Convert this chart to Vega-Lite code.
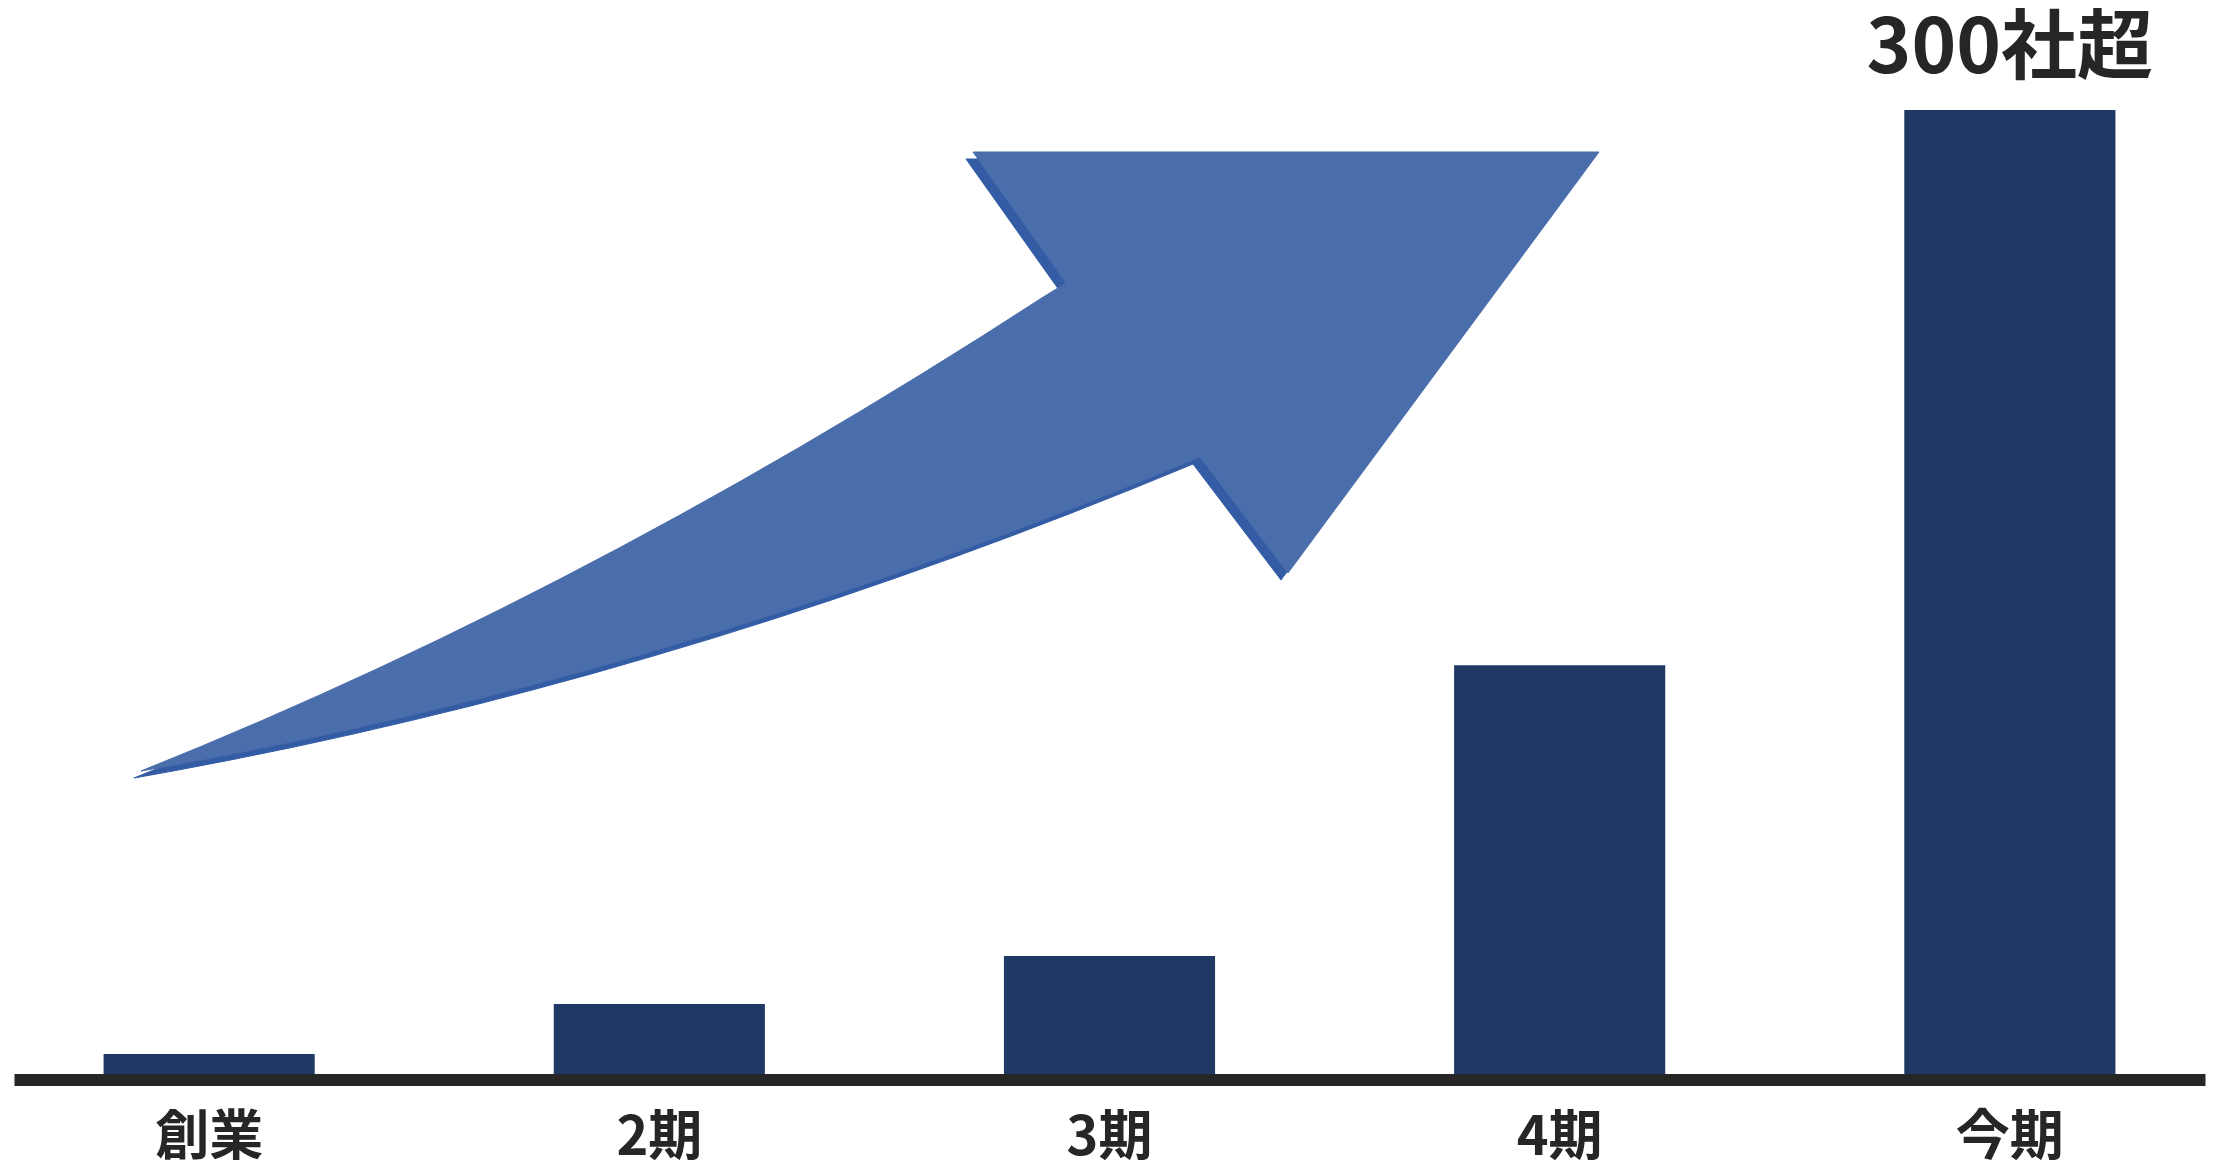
{
  "$schema": "https://vega.github.io/schema/vega-lite/v6.json",
  "width": 2191,
  "height": 969.5,
  "autosize": {"type": "none"},
  "padding": {"left": 14, "top": 110, "right": 14, "bottom": 84.5},
  "background": "white",
  "config": {"view": {"stroke": null}},
  "datasets": {
    "bars": [
      {"period": "創業", "value": 7.9, "note": ""},
      {"period": "2期", "value": 23.4, "note": ""},
      {"period": "3期", "value": 38.2, "note": ""},
      {"period": "4期", "value": 128.2, "note": ""},
      {"period": "今期", "value": 300, "note": "300社超"}
    ],
    "arrow": [
      {"part": "main", "i": 1, "u": 5.796, "v": 95.46},
      {"part": "main", "i": 2, "u": 8.489, "v": 102.92},
      {"part": "main", "i": 3, "u": 11.228, "v": 110.81},
      {"part": "main", "i": 4, "u": 13.966, "v": 119.01},
      {"part": "main", "i": 5, "u": 16.705, "v": 127.49},
      {"part": "main", "i": 6, "u": 19.443, "v": 136.31},
      {"part": "main", "i": 7, "u": 22.182, "v": 145.44},
      {"part": "main", "i": 8, "u": 24.920, "v": 154.87},
      {"part": "main", "i": 9, "u": 27.659, "v": 164.62},
      {"part": "main", "i": 10, "u": 30.397, "v": 174.68},
      {"part": "main", "i": 11, "u": 33.136, "v": 185.04},
      {"part": "main", "i": 12, "u": 35.874, "v": 195.72},
      {"part": "main", "i": 13, "u": 38.612, "v": 206.70},
      {"part": "main", "i": 14, "u": 41.351, "v": 218.00},
      {"part": "main", "i": 15, "u": 44.089, "v": 229.57},
      {"part": "main", "i": 16, "u": 46.828, "v": 241.49},
      {"part": "main", "i": 17, "u": 48.015, "v": 246.47},
      {"part": "main", "i": 18, "u": 43.770, "v": 287.00},
      {"part": "main", "i": 19, "u": 72.342, "v": 287.00},
      {"part": "main", "i": 20, "u": 58.147, "v": 156.73},
      {"part": "main", "i": 21, "u": 54.131, "v": 192.62},
      {"part": "main", "i": 22, "u": 51.392, "v": 185.01},
      {"part": "main", "i": 23, "u": 48.654, "v": 177.65},
      {"part": "main", "i": 24, "u": 45.915, "v": 170.53},
      {"part": "main", "i": 25, "u": 43.177, "v": 163.66},
      {"part": "main", "i": 26, "u": 40.438, "v": 157.07},
      {"part": "main", "i": 27, "u": 37.700, "v": 150.70},
      {"part": "main", "i": 28, "u": 34.961, "v": 144.60},
      {"part": "main", "i": 29, "u": 32.223, "v": 138.75},
      {"part": "main", "i": 30, "u": 29.484, "v": 133.18},
      {"part": "main", "i": 31, "u": 26.746, "v": 127.83},
      {"part": "main", "i": 32, "u": 24.007, "v": 122.75},
      {"part": "main", "i": 33, "u": 21.269, "v": 117.93},
      {"part": "main", "i": 34, "u": 18.530, "v": 113.38},
      {"part": "main", "i": 35, "u": 15.792, "v": 109.05},
      {"part": "main", "i": 36, "u": 13.053, "v": 104.99},
      {"part": "main", "i": 37, "u": 10.315, "v": 101.19},
      {"part": "main", "i": 38, "u": 7.576, "v": 97.63},
      {"part": "main", "i": 39, "u": 5.796, "v": 95.46},
      {"part": "shadow", "i": 1, "u": 5.477, "v": 93.29},
      {"part": "shadow", "i": 2, "u": 8.170, "v": 100.75},
      {"part": "shadow", "i": 3, "u": 10.909, "v": 108.64},
      {"part": "shadow", "i": 4, "u": 13.647, "v": 116.84},
      {"part": "shadow", "i": 5, "u": 16.386, "v": 125.32},
      {"part": "shadow", "i": 6, "u": 19.124, "v": 134.14},
      {"part": "shadow", "i": 7, "u": 21.863, "v": 143.27},
      {"part": "shadow", "i": 8, "u": 24.601, "v": 152.70},
      {"part": "shadow", "i": 9, "u": 27.340, "v": 162.45},
      {"part": "shadow", "i": 10, "u": 30.078, "v": 172.51},
      {"part": "shadow", "i": 11, "u": 32.817, "v": 182.87},
      {"part": "shadow", "i": 12, "u": 35.555, "v": 193.55},
      {"part": "shadow", "i": 13, "u": 38.293, "v": 204.53},
      {"part": "shadow", "i": 14, "u": 41.032, "v": 215.83},
      {"part": "shadow", "i": 15, "u": 43.770, "v": 227.40},
      {"part": "shadow", "i": 16, "u": 46.509, "v": 239.32},
      {"part": "shadow", "i": 17, "u": 47.696, "v": 244.30},
      {"part": "shadow", "i": 18, "u": 43.451, "v": 284.83},
      {"part": "shadow", "i": 19, "u": 72.023, "v": 284.83},
      {"part": "shadow", "i": 20, "u": 57.828, "v": 154.56},
      {"part": "shadow", "i": 21, "u": 53.812, "v": 190.45},
      {"part": "shadow", "i": 22, "u": 51.073, "v": 182.84},
      {"part": "shadow", "i": 23, "u": 48.335, "v": 175.48},
      {"part": "shadow", "i": 24, "u": 45.596, "v": 168.36},
      {"part": "shadow", "i": 25, "u": 42.858, "v": 161.49},
      {"part": "shadow", "i": 26, "u": 40.119, "v": 154.90},
      {"part": "shadow", "i": 27, "u": 37.381, "v": 148.53},
      {"part": "shadow", "i": 28, "u": 34.642, "v": 142.43},
      {"part": "shadow", "i": 29, "u": 31.904, "v": 136.58},
      {"part": "shadow", "i": 30, "u": 29.165, "v": 131.01},
      {"part": "shadow", "i": 31, "u": 26.427, "v": 125.66},
      {"part": "shadow", "i": 32, "u": 23.688, "v": 120.58},
      {"part": "shadow", "i": 33, "u": 20.950, "v": 115.76},
      {"part": "shadow", "i": 34, "u": 18.211, "v": 111.21},
      {"part": "shadow", "i": 35, "u": 15.473, "v": 106.88},
      {"part": "shadow", "i": 36, "u": 12.734, "v": 102.82},
      {"part": "shadow", "i": 37, "u": 9.996, "v": 99.02},
      {"part": "shadow", "i": 38, "u": 7.257, "v": 95.46},
      {"part": "shadow", "i": 39, "u": 5.477, "v": 93.29}
    ]
  },
  "layer": [
    {
      "data": {"name": "arrow"},
      "transform": [{"filter": "datum.part === 'shadow'"}],
      "mark": {"type": "line", "fill": "#335ca5", "stroke": "#335ca5", "strokeWidth": 1, "interpolate": "linear"},
      "encoding": {
        "x": {"field": "u", "type": "quantitative", "scale": {"domain": [0, 100], "nice": false, "zero": false}, "axis": null},
        "y": {"field": "v", "type": "quantitative", "scale": {"domain": [0, 300], "nice": false}, "axis": null},
        "order": {"field": "i", "type": "quantitative"}
      }
    },
    {
      "data": {"name": "arrow"},
      "transform": [{"filter": "datum.part === 'main'"}],
      "mark": {"type": "line", "fill": "#4a6dab", "stroke": "#4a6dab", "strokeWidth": 1, "interpolate": "linear"},
      "encoding": {
        "x": {"field": "u", "type": "quantitative", "scale": {"domain": [0, 100], "nice": false, "zero": false}, "axis": null},
        "y": {"field": "v", "type": "quantitative", "scale": {"domain": [0, 300], "nice": false}, "axis": null},
        "order": {"field": "i", "type": "quantitative"}
      }
    },
    {
      "data": {"name": "bars"},
      "mark": {"type": "bar", "color": "#203864"},
      "encoding": {
        "x": {
          "field": "period", "type": "nominal", "sort": null,
          "scale": {"type": "band", "paddingInner": 0.531, "paddingOuter": 0.199},
          "axis": {
            "title": null, "labelAngle": 0, "ticks": false, "grid": false,
            "domain": true, "domainColor": "#262626", "domainWidth": 12,
            "labelFont": "Noto Sans CJK JP", "labelFontSize": 54, "labelFontWeight": "bold",
            "labelColor": "#262626", "labelPadding": 32, "zindex": 1
          }
        },
        "y": {"field": "value", "type": "quantitative", "scale": {"domain": [0, 300], "nice": false}, "axis": null}
      }
    },
    {
      "data": {"name": "bars"},
      "mark": {"type": "text", "font": "Noto Sans CJK JP", "fontSize": 76, "fontWeight": "bold", "color": "#262626", "baseline": "alphabetic", "align": "center", "dy": -37},
      "encoding": {
        "x": {"field": "period", "type": "nominal", "sort": null, "scale": {"type": "band", "paddingInner": 0.531, "paddingOuter": 0.199}, "axis": null},
        "y": {"field": "value", "type": "quantitative", "scale": {"domain": [0, 300], "nice": false}, "axis": null},
        "text": {"field": "note"}
      }
    }
  ],
  "resolve": {"scale": {"x": "independent"}}
}
